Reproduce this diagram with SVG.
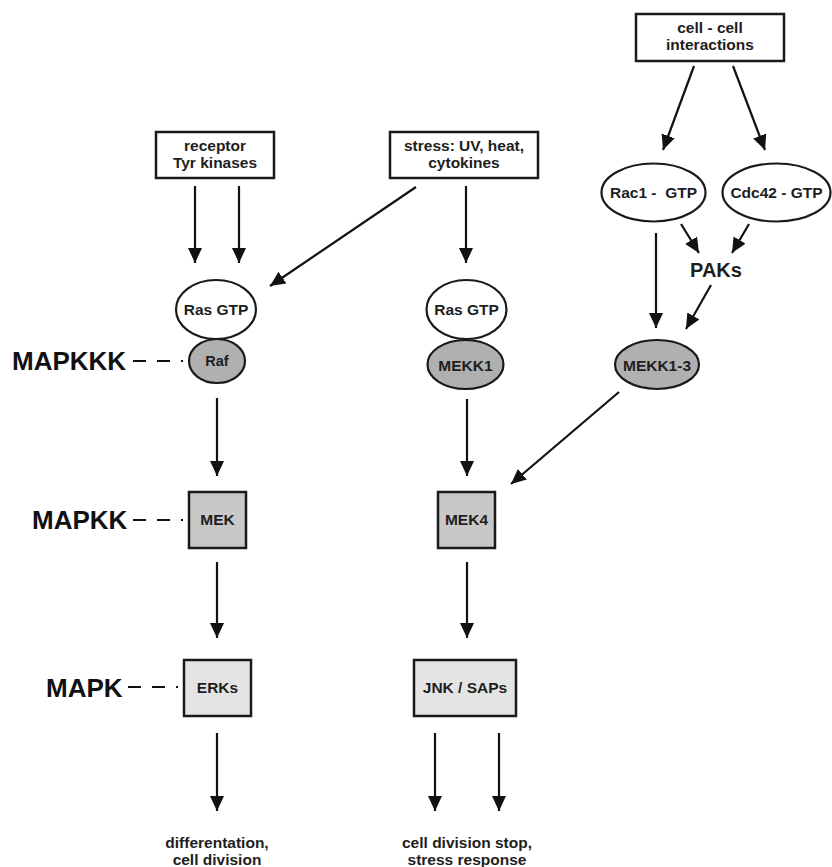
<svg xmlns="http://www.w3.org/2000/svg" width="832" height="867" viewBox="0 0 832 867">
<style>
  text { font-family: "Liberation Sans", Arial, sans-serif; font-weight: bold; fill: #1e1e1e; text-anchor: middle; }
  .t { font-size: 15.5px; }
  .big { font-size: 26px; text-anchor: start; fill: #111; }
  .paks { font-size: 20px; }
  .box { fill: #fff; stroke: #1a1a1a; stroke-width: 2.5; }
  .ell { fill: #fff; stroke: #1a1a1a; stroke-width: 2.2; }
  .dark { fill: #b0b0b0; stroke: #1a1a1a; stroke-width: 2.2; }
  .mid { fill: #c8c8c8; stroke: #1a1a1a; stroke-width: 2.5; }
  .light { fill: #e4e4e4; stroke: #1a1a1a; stroke-width: 2.5; }
  .arr { stroke: #111; stroke-width: 2.2; fill: none; marker-end: url(#ah); }
  .dash { stroke: #111; stroke-width: 2.2; fill: none; stroke-dasharray: 13 11 13 11 2; }
</style>
<defs>
  <marker id="ah" markerUnits="userSpaceOnUse" markerWidth="16" markerHeight="15" refX="15" refY="7" orient="auto">
    <path d="M0,0 L15,7 L0,14 z" fill="#111"/>
  </marker>
</defs>
<rect width="832" height="867" fill="#fff"/>

<g id="connectors">
  <line class="arr" x1="195" y1="186" x2="195" y2="263"/>
  <line class="arr" x1="239" y1="186" x2="239" y2="263"/>
  <line class="arr" x1="416" y1="187" x2="270" y2="286"/>
  <line class="arr" x1="466" y1="186" x2="466" y2="263"/>
  <line class="arr" x1="694" y1="66" x2="663" y2="150"/>
  <line class="arr" x1="733" y1="66" x2="765" y2="150"/>
  <line class="arr" x1="681" y1="224" x2="699" y2="253"/>
  <line class="arr" x1="749" y1="224" x2="732" y2="253"/>
  <line class="arr" x1="656" y1="233" x2="656" y2="328"/>
  <line class="arr" x1="711" y1="285" x2="686" y2="329"/>
  <line class="arr" x1="217" y1="398" x2="217" y2="476"/>
  <line class="arr" x1="467" y1="399" x2="467" y2="476"/>
  <line class="arr" x1="619" y1="392" x2="511" y2="484"/>
  <line class="arr" x1="217" y1="562" x2="217" y2="638"/>
  <line class="arr" x1="467" y1="562" x2="467" y2="638"/>
  <line class="arr" x1="217" y1="733" x2="217" y2="811"/>
  <line class="arr" x1="435" y1="733" x2="435" y2="811"/>
  <line class="arr" x1="499" y1="733" x2="499" y2="811"/>
  <line class="dash" x1="133" y1="361" x2="183" y2="361"/>
  <line class="dash" x1="133" y1="520" x2="183" y2="520"/>
  <line class="dash" x1="128" y1="687" x2="178" y2="687"/>
</g>

<g id="receptor">
  <rect class="box" x="156" y="132" width="118" height="46"/>
  <text class="t" x="215" y="151">receptor</text>
  <text class="t" x="215" y="168">Tyr kinases</text>
</g>
<g id="stress">
  <rect class="box" x="390" y="132" width="148" height="46"/>
  <text class="t" x="464" y="151">stress: UV, heat,</text>
  <text class="t" x="464" y="168">cytokines</text>
</g>
<g id="cellcell">
  <rect class="box" x="636" y="14" width="148" height="47"/>
  <text class="t" x="710" y="33">cell - cell</text>
  <text class="t" x="710" y="50">interactions</text>
</g>
<g id="rac1">
  <ellipse class="ell" cx="653.5" cy="192.5" rx="52" ry="29"/>
  <text class="t" x="653.5" y="198" xml:space="preserve">Rac1 -  GTP</text>
</g>
<g id="cdc42">
  <ellipse class="ell" cx="776.5" cy="192.5" rx="54" ry="29"/>
  <text class="t" x="776.5" y="198">Cdc42 - GTP</text>
</g>
<g id="paks">
  <text class="paks" x="716" y="277">PAKs</text>
</g>
<g id="ras1">
  <ellipse class="ell" cx="216" cy="309.5" rx="40" ry="29.5"/>
  <text class="t" x="216" y="315">Ras GTP</text>
</g>
<g id="raf">
  <ellipse class="dark" cx="217" cy="361" rx="28" ry="22"/>
  <text class="t" x="217" y="366" style="font-size:14.5px">Raf</text>
</g>
<g id="ras2">
  <ellipse class="ell" cx="466.5" cy="309.5" rx="40" ry="29.5"/>
  <text class="t" x="466.5" y="315">Ras GTP</text>
</g>
<g id="mekk1">
  <ellipse class="dark" cx="465.5" cy="364.5" rx="38" ry="24.5"/>
  <text class="t" x="465.5" y="370.5">MEKK1</text>
</g>
<g id="mekk13">
  <ellipse class="dark" cx="657" cy="364.5" rx="42" ry="24.5"/>
  <text class="t" x="657" y="370.5">MEKK1-3</text>
</g>
<g id="mek">
  <rect class="mid" x="189" y="492" width="57" height="56"/>
  <text class="t" x="217.5" y="525">MEK</text>
</g>
<g id="mek4">
  <rect class="mid" x="438" y="492" width="57" height="56"/>
  <text class="t" x="466.5" y="525">MEK4</text>
</g>
<g id="erks">
  <rect class="light" x="184" y="660" width="67" height="56"/>
  <text class="t" x="217.5" y="693">ERKs</text>
</g>
<g id="jnk">
  <rect class="light" x="414" y="660" width="102" height="56"/>
  <text class="t" x="465" y="693">JNK / SAPs</text>
</g>
<g id="labels">
  <text class="big" x="12" y="370">MAPKKK</text>
  <text class="big" x="32" y="529">MAPKK</text>
  <text class="big" x="46" y="697">MAPK</text>
</g>
<g id="out1">
  <text class="t" x="217" y="848">differentation,</text>
  <text class="t" x="217" y="865">cell division</text>
</g>
<g id="out2">
  <text class="t" x="467" y="848">cell division stop,</text>
  <text class="t" x="467" y="865">stress response</text>
</g>
</svg>
